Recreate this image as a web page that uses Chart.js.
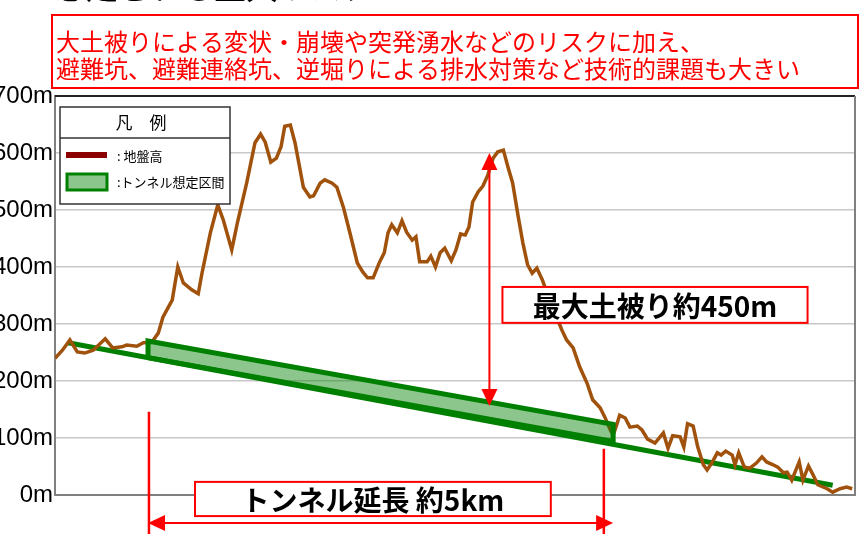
<!DOCTYPE html>
<html lang="ja">
<head>
  <meta charset="UTF-8" />
  <title>地盤高とトンネル想定区間</title>
  <script src="https://cdn.jsdelivr.net/npm/chart.js"></script>
  <style>
    body {
      margin: 0;
      background-color: #fff;
      overflow: hidden;
    }
  </style>
</head>
<body>
  <canvas id="profileChart" width="865" height="534"></canvas>

  <script>
    // 地盤高 (距離 km, 標高 m)
    const groundKm = [
      0.00, 0.08, 0.16, 0.24, 0.32, 0.41, 0.54, 0.62, 0.72, 0.77,
      0.88, 0.95, 1.04, 1.11, 1.16, 1.26, 1.32, 1.38, 1.47, 1.54,
      1.58, 1.67, 1.75, 1.81, 1.90, 1.96, 2.06, 2.15, 2.21, 2.26,
      2.32, 2.38, 2.43, 2.47, 2.53, 2.58, 2.67, 2.74, 2.78, 2.85,
      2.90, 2.98, 3.03, 3.10, 3.17, 3.25, 3.31, 3.36, 3.42, 3.49,
      3.54, 3.58, 3.62, 3.68, 3.73, 3.78, 3.84, 3.88, 3.92, 4.00,
      4.04, 4.09, 4.14, 4.19, 4.26, 4.31, 4.36, 4.41, 4.45, 4.49,
      4.55, 4.60, 4.65, 4.71, 4.76, 4.82, 4.87, 4.92, 4.98, 5.03,
      5.08, 5.13, 5.18, 5.24, 5.29, 5.36, 5.45, 5.50, 5.57, 5.64,
      5.72, 5.78, 5.86, 5.91, 5.97, 6.00, 6.03, 6.07, 6.13, 6.18,
      6.26, 6.31, 6.37, 6.45, 6.54, 6.59, 6.64, 6.72, 6.76, 6.80,
      6.86, 6.91, 6.97, 7.01, 7.06, 7.12, 7.16, 7.21, 7.28, 7.31,
      7.35, 7.41, 7.47, 7.54, 7.60, 7.65, 7.72, 7.77, 7.83, 7.87,
      7.92, 8.00, 8.04, 8.10, 8.15, 8.20, 8.30, 8.36, 8.44, 8.51,
      8.57
    ];
    const groundM = [
      240, 254, 272, 251, 249, 254, 274, 258, 260, 263,
      261, 267, 268, 284, 312, 342, 400, 372, 360, 353,
      389, 460, 509, 482, 430, 477, 547, 618, 633, 619,
      584, 591, 611, 647, 649, 618, 540, 523, 525, 547,
      553, 547, 540, 505, 460, 407, 391, 381, 381, 409,
      425, 460, 474, 460, 481, 461, 447, 453, 409, 409,
      419, 400, 425, 433, 411, 430, 458, 456, 470, 514,
      532, 542, 560, 591, 602, 605, 575, 547, 488, 442,
      404, 389, 398, 377, 354, 325, 289, 272, 258, 225,
      196, 167, 153, 137, 114, 105, 119, 140, 135, 119,
      121, 114, 98, 91, 109, 82, 104, 102, 84, 125,
      121, 84, 53, 44, 56, 74, 70, 77, 70, 53,
      74, 49, 47, 56, 67, 58, 53, 49, 39, 40,
      26, 58, 26, 51, 35, 18, 11, 5, 11, 14,
      11
    ];

    // トンネル計画線
    const tunnelKm = [0.14, 8.36];
    const tunnelM = [267, 17];

    // トンネル想定区間 (約5km)
    const sectionKm = [1.0, 1.0, 6.0, 6.0, 1.0];
    const sectionM = [241, 270, 124, 94, 241];

    const yTicks = [0, 100, 200, 300, 400, 500, 600, 700];

    const noteLines = [
      '大土被りによる変状・崩壊や突発湧水などのリスクに加え、',
      '避難坑、避難連絡坑、逆堀りによる排水対策など技術的課題も大きい'
    ];

    const FONT_NUM = '"Liberation Sans", Arial, sans-serif';
    const FONT_JP = '"Noto Sans CJK JP", "Noto Sans", sans-serif';
    const RED = '#ff0000';
    const GREEN = '#008000';
    const BROWN = '#a0520c';

    const toPoints = (xs, ys) => xs.map((x, i) => ({ x: x, y: ys[i] }));

    function arrowHead(ctx, x, y, dx, dy) {
      // 先端 (x, y), 向き (dx, dy)
      const len = 17, half = 8;
      const bx = x - dx * len, by = y - dy * len;
      ctx.beginPath();
      ctx.moveTo(x, y);
      ctx.lineTo(bx - dy * half, by + dx * half);
      ctx.lineTo(bx + dy * half, by - dx * half);
      ctx.closePath();
      ctx.fill();
    }

    function labelBox(ctx, x1, y1, x2, y2, text) {
      ctx.fillStyle = '#fff';
      ctx.fillRect(x1, y1, x2 - x1, y2 - y1);
      ctx.strokeStyle = RED;
      ctx.lineWidth = 2;
      ctx.strokeRect(x1, y1, x2 - x1, y2 - y1);
      ctx.fillStyle = '#000';
      ctx.font = 'bold 28px ' + FONT_JP;
      ctx.textAlign = 'center';
      ctx.textBaseline = 'middle';
      ctx.fillText(text, (x1 + x2) / 2, (y1 + y2) / 2 + 1);
    }

    const overlay = {
      id: 'overlay',
      afterDatasetsDraw(chart) {
        const ctx = chart.ctx;
        const xs = chart.scales.x;
        const ys = chart.scales.y;
        const area = chart.chartArea;
        ctx.save();

        // 枠線 (上・右)
        ctx.strokeStyle = '#222';
        ctx.lineWidth = 2;
        ctx.beginPath();
        ctx.moveTo(area.left, area.top);
        ctx.lineTo(area.right, area.top);
        ctx.stroke();
        ctx.strokeStyle = '#808080';
        ctx.beginPath();
        ctx.moveTo(area.right, area.top);
        ctx.lineTo(area.right, area.bottom);
        ctx.stroke();

        // 凡例
        ctx.fillStyle = '#fff';
        ctx.fillRect(60, 107, 170, 97);
        ctx.strokeStyle = '#333';
        ctx.lineWidth = 1.5;
        ctx.strokeRect(60, 107, 170, 97);
        ctx.beginPath();
        ctx.moveTo(60, 138);
        ctx.lineTo(230, 138);
        ctx.stroke();
        ctx.fillStyle = '#000';
        ctx.textAlign = 'center';
        ctx.textBaseline = 'middle';
        ctx.font = '17px ' + FONT_JP;
        ctx.fillText('凡　例', 141, 123);
        ctx.strokeStyle = '#8b0000';
        ctx.lineWidth = 6;
        ctx.beginPath();
        ctx.moveTo(66, 155);
        ctx.lineTo(107, 155);
        ctx.stroke();
        ctx.fillStyle = 'rgba(0,128,0,0.45)';
        ctx.fillRect(67, 174, 40, 16);
        ctx.strokeStyle = GREEN;
        ctx.lineWidth = 3;
        ctx.strokeRect(67, 174, 40, 16);
        ctx.fillStyle = '#000';
        ctx.textAlign = 'left';
        ctx.font = '13px ' + FONT_JP;
        ctx.fillText(': 地盤高', 117, 156);
        ctx.fillText(':トンネル想定区間', 117, 182);

        // 最大土被り矢印
        ctx.strokeStyle = RED;
        ctx.fillStyle = RED;
        ctx.lineWidth = 2;
        const ax = xs.getPixelForValue(4.67);
        const aTop = ys.getPixelForValue(600);
        const aBot = ys.getPixelForValue(156);
        ctx.beginPath();
        ctx.moveTo(ax, aTop + 10);
        ctx.lineTo(ax, aBot - 10);
        ctx.stroke();
        arrowHead(ctx, ax, aTop, 0, -1);
        arrowHead(ctx, ax, aBot, 0, 1);

        // トンネル延長の寸法線
        ctx.lineWidth = 2.5;
        const l1 = xs.getPixelForValue(1.01);
        const l2 = xs.getPixelForValue(5.9);
        ctx.beginPath();
        ctx.moveTo(l1, ys.getPixelForValue(146));
        ctx.lineTo(l1, chart.height);
        ctx.moveTo(l2, ys.getPixelForValue(81));
        ctx.lineTo(l2, chart.height);
        ctx.stroke();
        const hy = ys.getPixelForValue(-49);
        const h1 = xs.getPixelForValue(1.0);
        const h2 = xs.getPixelForValue(6.0);
        ctx.lineWidth = 2;
        ctx.beginPath();
        ctx.moveTo(h1 + 10, hy);
        ctx.lineTo(h2 - 10, hy);
        ctx.stroke();
        arrowHead(ctx, h1, hy, -1, 0);
        arrowHead(ctx, h2, hy, 1, 0);

        labelBox(ctx, xs.getPixelForValue(4.81), ys.getPixelForValue(365),
          xs.getPixelForValue(8.09), ys.getPixelForValue(302), '最大土被り約450m');
        labelBox(ctx, xs.getPixelForValue(1.505), ys.getPixelForValue(23),
          xs.getPixelForValue(5.33), ys.getPixelForValue(-37), 'トンネル延長 約5km');

        // 上部の見出し (上端で切れている)
        ctx.fillStyle = '#000';
        ctx.font = '32px ' + FONT_JP;
        ctx.textAlign = 'left';
        ctx.textBaseline = 'alphabetic';
        ctx.fillText('・想定される重大リスク', 22, -1);

        ctx.fillStyle = '#fff';
        ctx.fillRect(52, 15, 806, 73);
        ctx.strokeStyle = RED;
        ctx.lineWidth = 2;
        ctx.strokeRect(52, 15, 806, 73);
        ctx.fillStyle = RED;
        ctx.font = '24px ' + FONT_JP;
        ctx.textBaseline = 'middle';
        ctx.fillText(noteLines[0], 56, 42);
        ctx.fillText(noteLines[1], 56, 69);

        ctx.restore();
      }
    };

    const ctx = document.getElementById('profileChart').getContext('2d');
    new Chart(ctx, {
      type: 'line',
      data: {
        datasets: [
          {
            label: 'トンネル想定区間',
            data: toPoints(sectionKm, sectionM),
            borderColor: GREEN,
            borderWidth: 5,
            backgroundColor: 'rgba(0,128,0,0.45)',
            fill: 'shape',
            pointRadius: 0,
            tension: 0,
            order: 0
          },
          {
            label: '地盤高',
            data: toPoints(groundKm, groundM),
            borderColor: BROWN,
            borderWidth: 3.5,
            pointRadius: 0,
            tension: 0,
            fill: false,
            order: 1
          },
          {
            label: 'トンネル',
            data: toPoints(tunnelKm, tunnelM),
            borderColor: GREEN,
            borderWidth: 5,
            pointRadius: 0,
            fill: false,
            order: 2
          }
        ]
      },
      options: {
        responsive: false,
        animation: false,
        layout: { padding: { top: 96, right: 10, bottom: 39, left: 0 } },
        plugins: {
          legend: { display: false },
          tooltip: { enabled: false }
        },
        scales: {
          x: {
            type: 'linear',
            min: 0,
            max: 8.6,
            ticks: { display: false },
            grid: { display: false, drawTicks: false },
            border: { color: '#808080', width: 2 },
            afterFit(scale) { scale.height = 0; }
          },
          y: {
            min: 0,
            max: 700,
            afterBuildTicks(scale) { scale.ticks = yTicks.map(v => ({ value: v })); },
            ticks: {
              callback: v => v + 'm',
              color: '#000',
              padding: 2,
              font: { family: FONT_NUM, size: 24 }
            },
            grid: { color: '#c8c8c8', lineWidth: 1.5, drawTicks: false },
            border: { color: '#808080', width: 2 },
            afterFit(scale) { scale.width = 55; }
          }
        }
      },
      plugins: [overlay]
    });
  </script>
</body>
</html>
